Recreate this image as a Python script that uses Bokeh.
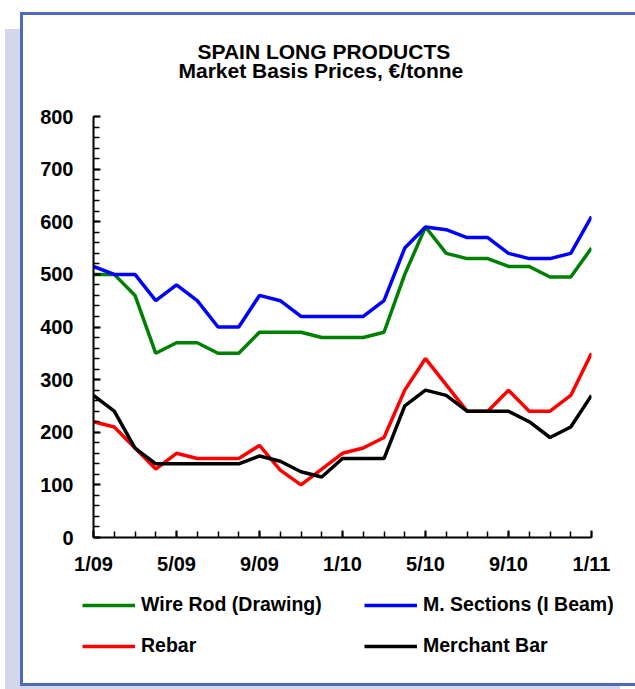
from bokeh.plotting import figure
from bokeh.models import Legend, LegendItem, FixedTicker, Range1d, Title
from bokeh.layouts import column
from bokeh.embed import file_html
from bokeh.resources import INLINE

# ---- data -------------------------------------------------------------
month_index = list(range(25))
tick_positions = [0, 4, 8, 12, 16, 20, 24]
tick_labels = ["1/09", "5/09", "9/09", "1/10", "5/10", "9/10", "1/11"]

wire_rod = [500, 500, 460, 350, 370, 370, 350, 350, 390, 390, 390, 380, 380,
            380, 390, 500, 590, 540, 530, 530, 515, 515, 495, 495, 550]
sections = [515, 500, 500, 450, 480, 450, 400, 400, 460, 450, 420, 420, 420,
            420, 450, 550, 590, 585, 570, 570, 540, 530, 530, 540, 610]
rebar = [220, 210, 170, 130, 160, 150, 150, 150, 175, 128, 100, 130, 160,
         170, 190, 280, 340, 290, 240, 240, 280, 240, 240, 270, 350]
merchant = [270, 240, 170, 140, 140, 140, 140, 140, 155, 145, 125, 115, 150,
            150, 150, 250, 280, 270, 240, 240, 240, 220, 190, 210, 270]

series_names = ["Wire Rod (Drawing)", "M. Sections (I Beam)", "Rebar", "Merchant Bar"]
series_colors = ["#008000", "#0000FF", "#FF0000", "#000000"]
series_values = [wire_rod, sections, rebar, merchant]

FONT = "Liberation Sans"

# ---- main chart -------------------------------------------------------
p = figure(width=612, height=562, x_range=Range1d(0, 24), y_range=Range1d(0, 800),
           output_backend="svg", toolbar_location=None,
           min_border_left=70, min_border_right=44, min_border_top=101,
           min_border_bottom=39)
p.grid.grid_line_color = None
p.outline_line_color = None
p.background_fill_color = "white"
p.border_fill_color = "white"

# titles (stacked outward from the frame: spacer, subtitle, main title)
p.add_layout(Title(text=" ", text_font_size="1px", standoff=32), "above")
p.add_layout(Title(text="Market Basis Prices, €/tonne", align="left", offset=85,
                   standoff=0, text_font=FONT, text_font_style="bold",
                   text_font_size="21px", text_color="black"), "above")
p.add_layout(Title(text="SPAIN LONG PRODUCTS", align="left", offset=104,
                   standoff=-13, text_font=FONT, text_font_style="bold",
                   text_font_size="21px", text_color="black"), "above")

for ys, col in zip(series_values, series_colors):
    p.line(month_index, ys, line_color=col, line_width=3.5)

p.xaxis.ticker = FixedTicker(ticks=tick_positions, minor_ticks=month_index)
p.xaxis.major_label_overrides = {t: l for t, l in zip(tick_positions, tick_labels)}
p.yaxis.ticker = FixedTicker(ticks=list(range(0, 801, 100)),
                             minor_ticks=list(range(0, 801, 20)))
for ax in (p.xaxis[0], p.yaxis[0]):
    ax.axis_line_color = "black"
    ax.axis_line_width = 2
    ax.major_tick_in = 7
    ax.major_tick_out = 0
    ax.minor_tick_in = 6
    ax.minor_tick_out = 0
    ax.major_tick_line_color = "black"
    ax.minor_tick_line_color = "black"
    ax.major_tick_line_width = 2
    ax.minor_tick_line_width = 1.5
    ax.major_label_text_font = FONT
    ax.major_label_text_font_style = "bold"
    ax.major_label_text_font_size = "20px"
    ax.major_label_text_color = "black"
p.xaxis.major_label_standoff = 15
p.yaxis.major_label_standoff = 20

# ---- legend strip -----------------------------------------------------
pl = figure(width=612, height=106, x_range=Range1d(0, 1), y_range=Range1d(-2, -1),
            output_backend="svg", toolbar_location=None,
            x_axis_location=None, y_axis_location=None, min_border=0)
pl.grid.grid_line_color = None
pl.outline_line_color = None
pl.background_fill_color = "white"
pl.border_fill_color = "white"
# do not align this strip's frame with the chart's frame
if "frame_align" in type(pl).properties():
    pl.frame_align = False
    p.frame_align = False

# same series (outside this strip's visible range) feed the legend glyphs
leg_renderers = [pl.line(month_index, ys, line_color=c, line_width=3.5)
                 for ys, c in zip(series_values, series_colors)]
items = [LegendItem(label=n, renderers=[r]) for n, r in zip(series_names, leg_renderers)]
legend = Legend(items=items, location=(59, 26), orientation="horizontal", ncols=2,
                spacing=18, glyph_width=53, glyph_height=22, label_height=22,
                label_width=205, label_standoff=6, padding=0, margin=0,
                border_line_color=None, background_fill_alpha=0,
                label_text_font=FONT, label_text_font_style="bold",
                label_text_font_size="19.5px", label_text_color="black")
pl.add_layout(legend)

layout = column(p, pl, spacing=0)
layout.margin = (12, 0, 0, 20)
layout.styles = {
    "border-left": "3px solid #4E69B8",
    "border-top": "3px solid #4E69B8",
    "border-bottom": "3px solid #4E69B8",
    "box-shadow": "-15px 17px 0 0 #D3D6EC",
    "background": "white",
}

open("out.html", "w").write(file_html(layout, INLINE))
